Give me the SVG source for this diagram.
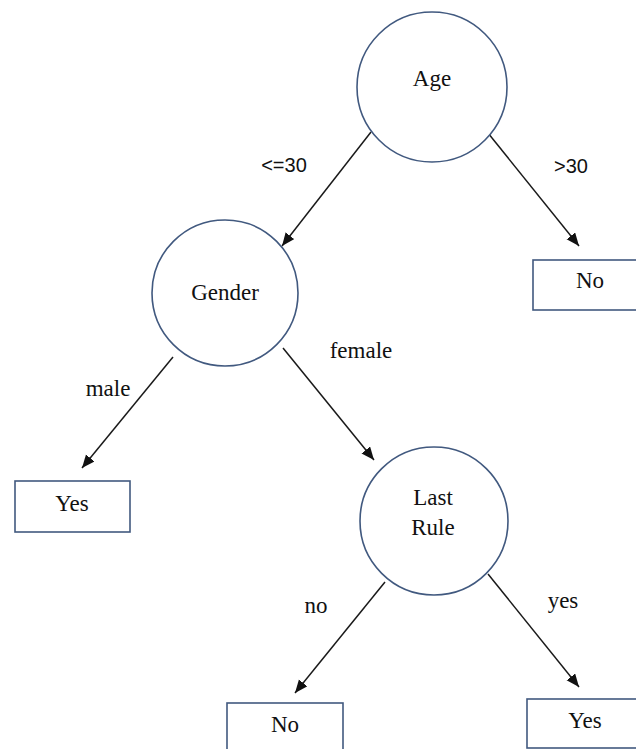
<svg xmlns="http://www.w3.org/2000/svg" width="636" height="749" viewBox="0 0 636 749">
  <style>
    .node { fill: #ffffff; stroke: #41597f; stroke-width: 1.6; }
    .edge { stroke: #1a1a1a; stroke-width: 1.5; fill: none; marker-end: url(#arrow); }
    .t { font-family: "Liberation Serif", "Times New Roman", Times, "DejaVu Serif", serif; font-size: 23px; fill: #111; text-anchor: middle; }
    .lbls { font-family: "Liberation Sans", Arial, sans-serif; font-size: 20px; fill: #111; text-anchor: middle; }
  </style>
  <defs>
    <marker id="arrow" markerUnits="userSpaceOnUse" markerWidth="14" markerHeight="12" refX="13" refY="5.5" orient="auto">
      <path d="M0,0 L13,5.5 L0,11 z" fill="#111"/>
    </marker>
  </defs>
  <rect width="636" height="749" fill="#ffffff"/>

  <!-- connectors with their branch labels -->
  <g id="edges">
    <line class="edge" x1="371" y1="132" x2="282" y2="246"/>
    <line class="edge" x1="488" y1="133" x2="579" y2="246"/>
    <line class="edge" x1="173" y1="357" x2="82" y2="468"/>
    <line class="edge" x1="283" y1="348" x2="374" y2="460"/>
    <line class="edge" x1="385" y1="582" x2="295" y2="693"/>
    <line class="edge" x1="488" y1="574" x2="579" y2="687"/>
    <text class="lbls" x="284" y="172">&lt;=30</text>
    <text class="lbls" x="571" y="173">&gt;30</text>
    <text class="t" x="108" y="396">male</text>
    <text class="t" x="361" y="358">female</text>
    <text class="t" x="316" y="613">no</text>
    <text class="t" x="563" y="608">yes</text>
  </g>

  <!-- decision nodes -->
  <g id="age">
    <circle class="node" cx="432" cy="87" r="75"/>
    <text class="t" x="432" y="86">Age</text>
  </g>
  <g id="gender">
    <circle class="node" cx="225" cy="293" r="73"/>
    <text class="t" x="225" y="300">Gender</text>
  </g>
  <g id="last-rule">
    <circle class="node" cx="434" cy="521" r="74"/>
    <text class="t" x="433" y="505">Last</text>
    <text class="t" x="433" y="535">Rule</text>
  </g>

  <!-- leaves -->
  <g id="leaf-no-top">
    <rect class="node" x="533" y="260" width="114" height="50"/>
    <text class="t" x="590" y="288">No</text>
  </g>
  <g id="leaf-yes-left">
    <rect class="node" x="15" y="481" width="115" height="51"/>
    <text class="t" x="72" y="511">Yes</text>
  </g>
  <g id="leaf-no-bottom">
    <rect class="node" x="227" y="703" width="116" height="60"/>
    <text class="t" x="285" y="732">No</text>
  </g>
  <g id="leaf-yes-bottom">
    <rect class="node" x="527" y="699" width="116" height="49"/>
    <text class="t" x="585" y="728">Yes</text>
  </g>
</svg>
